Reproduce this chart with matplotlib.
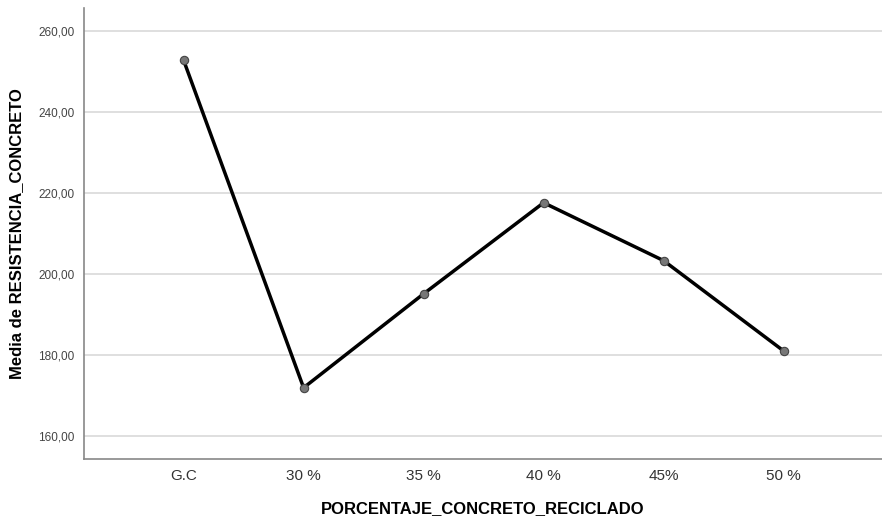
import matplotlib
matplotlib.use("Agg")
import matplotlib.pyplot as plt

plt.rcParams['font.family'] = ['Liberation Sans', 'DejaVu Sans']

categories = ["G.C", "30 %", "35 %", "40 %", "45%", "50 %"]
mean_strength = [252.8, 171.9, 195.1, 217.6, 203.3, 181.0]
y_ticks = [160, 180, 200, 220, 240, 260]


def main():
    fig = plt.figure(figsize=(8.82, 5.27), dpi=100)
    ax = fig.add_axes([84 / 882, 68 / 527, 798 / 882, 451 / 527])

    x = list(range(len(categories)))
    ax.plot(x, mean_strength, color="black", linewidth=2.5, zorder=3,
            marker="o", markersize=6, markerfacecolor="#777777",
            markeredgecolor="#444444", markeredgewidth=0.8)

    ax.set_xlim(-0.83, 5.82)
    ax.set_ylim(154.3, 265.7)

    ax.set_yticks(y_ticks)
    ax.set_yticklabels(["{:.2f}".format(v).replace(".", ",") for v in y_ticks],
                       fontsize=8.5, color="#444444")
    ax.set_xticks(x)
    ax.set_xticklabels(categories, fontsize=11, color="#333333")
    ax.tick_params(axis="both", length=0, pad=7)

    ax.grid(axis="y", color="#d9d9d9", linewidth=1.2)
    ax.set_axisbelow(True)
    for side in ["top", "right"]:
        ax.spines[side].set_visible(False)
    for side in ["left", "bottom"]:
        ax.spines[side].set_color("#888888")
        ax.spines[side].set_linewidth(1.2)

    ax.set_xlabel("PORCENTAJE_CONCRETO_RECICLADO", fontsize=12,
                  fontweight="bold", labelpad=13)
    ax.set_ylabel("Media de RESISTENCIA_CONCRETO", fontsize=12,
                  fontweight="bold", labelpad=10)

    plt.savefig("out.png", dpi=100)


if __name__ == "__main__":
    main()
